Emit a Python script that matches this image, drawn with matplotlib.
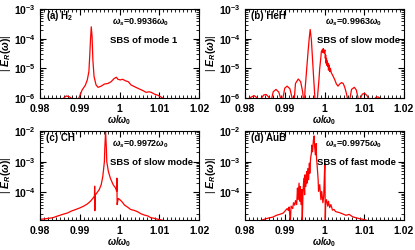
import numpy as np
import matplotlib
matplotlib.use("Agg")
import matplotlib.pyplot as plt
from matplotlib.ticker import MultipleLocator, LogLocator, NullFormatter, FixedFormatter, FixedLocator

plt.rcParams["font.family"] = ["Liberation Sans", "DejaVu Sans"]
plt.rcParams["font.weight"] = "bold"
plt.rcParams["mathtext.fontset"] = "custom"
plt.rcParams["mathtext.rm"] = "Liberation Sans:bold"
plt.rcParams["mathtext.it"] = "Liberation Sans:italic:bold"
plt.rcParams["mathtext.bf"] = "Liberation Sans:bold"

# (a) H2 : frequency and log10 |E_R|
x_a = [0.9857, 0.9866, 0.9874, 0.9881, 0.9889, 0.9897, 0.9906, 0.9914, 0.9919, 0.9923,
       0.9925, 0.9927, 0.9929, 0.9931, 0.9933, 0.9936, 0.9941, 0.9946, 0.9954, 0.9962,
       0.9971, 0.9979, 0.9986, 0.9992, 0.9996, 1.0002, 1.0008, 1.0015, 1.0022, 1.0029,
       1.0038, 1.0049, 1.0059, 1.0067, 1.0074, 1.0080, 1.0088, 1.0097, 1.0105, 1.0111]
lg_a = [-6.03, -5.93, -5.96, -6.03, -6.3, -6.03, -5.73, -5.57, -5.39, -5.11,
        -4.61, -4.04, -3.60, -3.93, -4.72, -5.28, -5.56, -5.64, -5.60, -5.53,
        -5.51, -5.45, -5.35, -5.30, -5.37, -5.39, -5.37, -5.42, -5.45, -5.56,
        -5.62, -5.69, -5.75, -5.81, -5.79, -5.81, -5.87, -5.91, -5.97, -6.03]

# (b) HeH
x_b = [0.9808, 0.9817, 0.9823, 0.9830, 0.9833, 0.9837, 0.9840, 0.9847, 0.9853, 0.9859,
       0.9863, 0.9865, 0.9867, 0.9871, 0.9878, 0.9885, 0.9890, 0.9893, 0.9895, 0.9900,
       0.9906, 0.9913, 0.9919, 0.9921, 0.9924, 0.9927, 0.9934, 0.9940, 0.9945, 0.9947,
       0.9949, 0.9951, 0.9955, 0.9959, 0.9962, 0.9964, 0.9967, 0.9969, 0.9972, 0.9976,
       0.9979, 0.9982, 0.9986, 0.9988, 0.9991, 0.9992, 0.9994, 0.9996, 0.9997, 0.9999,
       1.0001, 1.0002, 1.0003, 1.0004, 1.0005, 1.0006, 1.0007, 1.0008, 1.0009, 1.0010,
       1.0011, 1.0012, 1.0013, 1.0015, 1.0017, 1.0020, 1.0026, 1.0030, 1.0034, 1.0038,
       1.0043, 1.0047, 1.0051, 1.0055, 1.0058, 1.0061, 1.0064, 1.0068, 1.0075, 1.0080,
       1.0085, 1.0088, 1.0090, 1.0095, 1.0101, 1.0107, 1.0111, 1.0118, 1.0126, 1.0131,
       1.0136, 1.0141]
lg_b = [-6.03, -5.96, -5.92, -5.99, -6.03, -6.4, -6.03, -5.90, -5.88, -5.96,
        -6.03, -6.4, -6.03, -5.79, -5.71, -5.80, -6.03, -6.4, -6.03, -5.67,
        -5.60, -5.69, -6.03, -6.4, -6.03, -5.51, -5.36, -5.45, -5.79, -6.03,
        -6.4, -5.73, -5.06, -4.38, -3.93, -3.69, -4.04, -4.49, -5.17, -6.03,
        -6.4, -6.03, -5.39, -5.00, -4.61, -4.44, -4.38, -4.47, -4.33, -4.49,
        -4.38, -4.66, -4.55, -4.83, -4.66, -4.90, -4.75, -4.94, -4.83, -5.06,
        -4.92, -4.89, -5.11, -5.00, -5.15, -5.22, -5.39, -5.53, -5.60, -5.53,
        -5.48, -5.51, -5.64, -5.84, -6.03, -6.4, -6.03, -5.71, -5.64, -5.73,
        -6.03, -6.4, -6.03, -5.87, -5.84, -5.92, -6.03, -6.4, -6.03, -5.96,
        -5.97, -6.03]

# (c) CH
x_c = [0.9802, 0.9815, 0.9832, 0.9845, 0.9857, 0.9870, 0.9879, 0.9890, 0.9900, 0.9910,
       0.9919, 0.9927, 0.9934, 0.99370, 0.99375, 0.99380, 0.99385, 0.9943, 0.9949, 0.9954,
       0.9958, 0.9962, 0.9963, 0.9965, 0.9967, 0.9968, 0.9972, 0.9977, 0.9984, 0.9990,
       0.9993, 0.99935, 0.9994, 0.9997, 1.0001, 1.0007, 1.0013, 1.0020, 1.0028, 1.0037,
       1.0045, 1.0054, 1.0062, 1.0071, 1.0079, 1.0088, 1.0097, 1.0105, 1.0114]
lg_c = [-4.88, -4.86, -4.83, -4.77, -4.72, -4.67, -4.61, -4.56, -4.51, -4.45,
        -4.38, -4.29, -4.18, -4.12, -3.80, -4.60, -4.10, -4.02, -3.91, -3.75,
        -3.48, -3.00, -2.57, -2.02, -2.57, -3.00, -3.32, -3.54, -3.75, -3.86,
        -3.97, -3.54, -4.40, -4.20, -4.24, -4.32, -4.42, -4.48, -4.56, -4.59,
        -4.63, -4.70, -4.74, -4.77, -4.83, -4.85, -4.88, -4.90, -4.94]

# (d) AuB
x_d = [0.9844, 0.9853, 0.9862, 0.9870, 0.9879, 0.9887, 0.9896, 0.9902, 0.9906, 0.9909,
       0.9911, 0.9914, 0.9916, 0.9920, 0.9922, 0.9925, 0.9927, 0.9930, 0.9932, 0.9933,
       0.9936, 0.9938, 0.9939, 0.9941, 0.9943, 0.9944, 0.9946, 0.9948, 0.9950, 0.9951,
       0.9953, 0.9955, 0.9956, 0.9958, 0.9960, 0.9962, 0.9963, 0.9965, 0.9967, 0.9968,
       0.9970, 0.9972, 0.9974, 0.9975, 0.9977, 0.9979, 0.9980, 0.9982, 0.9984, 0.9985,
       0.9988, 0.9991, 0.9993, 0.9996, 0.9998, 1.0000, 1.0001, 1.0002, 1.0003, 1.0005,
       1.0008, 1.0010, 1.0013, 1.0016, 1.0020, 1.0024, 1.0028, 1.0037, 1.0045, 1.0054,
       1.0062, 1.0071, 1.0079, 1.0088, 1.0097, 1.0105]
lg_d = [-4.90, -4.86, -4.83, -4.81, -4.75, -4.72, -4.68, -4.59, -4.53, -4.59,
        -4.48, -4.95, -4.45, -4.53, -4.34, -4.42, -4.27, -4.40, -3.86, -4.24,
        -3.70, -4.29, -3.81, -4.40, -3.91, -4.95, -3.97, -3.54, -4.08, -3.43,
        -3.81, -3.32, -3.70, -3.22, -3.59, -3.05, -3.38, -2.89, -2.73, -2.46,
        -2.68, -2.30, -2.16, -2.46, -2.78, -2.41, -2.89, -3.22, -3.59, -3.97,
        -3.75, -4.24, -3.97, -4.34, -4.13, -3.32, -3.05, -4.95, -4.34, -4.24,
        -4.45, -4.29, -4.50, -4.40, -4.58, -4.56, -4.63, -4.66, -4.70, -4.75,
        -4.72, -4.80, -4.83, -4.86, -4.88, -4.91]

panels = [
    (x_a, lg_a, (1e-6, 1e-3), [-6, -5, -4, -3], "(a) H$_2$", "0.9936", "SBS of mode 1", 0.45, 0.44),
    (x_b, lg_b, (1e-6, 1e-3), [-6, -5, -4, -3], "(b) HeH", "0.9963", "SBS of slow mode", 0.50, 0.45),
    (x_c, lg_c, (1.25e-5, 1e-2), [-4, -3, -2], "(c) CH", "0.9972", "SBS of slow mode", 0.45, 0.44),
    (x_d, lg_d, (1.25e-5, 1e-2), [-4, -3, -2], "(d) AuB", "0.9975", "SBS of fast mode", 0.50, 0.45),
]

fig = plt.figure(figsize=(4.15, 2.5), dpi=100)
W, H = 415.0, 250.0
boxes = [(40, 9), (245, 9), (40, 131), (245, 131)]

for (xs, lg, ylim, decs, tag, ws, sbs, wx, sx), (l, t) in zip(panels, boxes):
    ax = fig.add_axes([l / W, 1 - (t + 89) / H, 159 / W, 89 / H])
    ax.plot(xs, 10 ** np.array(lg), color="red", lw=0.9)
    ax.set_yscale("log")
    ax.set_xlim(0.98, 1.02)
    ax.set_ylim(*ylim)
    ax.xaxis.set_major_locator(FixedLocator([0.98, 0.99, 1.0, 1.01, 1.02]))
    ax.xaxis.set_major_formatter(FixedFormatter(["0.98", "0.99", "1", "1.01", "1.02"]))
    ax.xaxis.set_minor_locator(MultipleLocator(0.001))
    ax.yaxis.set_major_locator(FixedLocator([10.0 ** d for d in decs]))
    ax.yaxis.set_major_formatter(FixedFormatter([r"10$^{%d}$" % d for d in decs]))
    ax.yaxis.set_minor_locator(LogLocator(base=10, subs=np.arange(2, 10)))
    ax.yaxis.set_minor_formatter(NullFormatter())
    ax.tick_params(which="both", direction="in", top=True, right=True, labelsize=7.5)
    ax.tick_params(axis="x", pad=4)
    ax.tick_params(axis="y", pad=3)
    ax.tick_params(which="major", length=4, width=0.8)
    ax.tick_params(which="minor", length=2, width=0.6)
    for s in ax.spines.values():
        s.set_linewidth(0.8)
    ax.set_xlabel(r"$\omega/\omega_0$", fontsize=7, labelpad=0)
    ax.set_ylabel(r"| $\mathit{E}_R(\omega)$|", fontsize=7.5, labelpad=1)
    ax.text(0.04, 0.92, tag, transform=ax.transAxes, fontsize=7, va="center")
    ax.text(wx, 0.85, r"$\omega_s$=" + ws + r"$\omega_0$", transform=ax.transAxes,
            fontsize=6.5, va="center")
    ax.text(sx, 0.65, sbs, transform=ax.transAxes, fontsize=6.8, va="center")

fig.savefig("out.png", dpi=100)
